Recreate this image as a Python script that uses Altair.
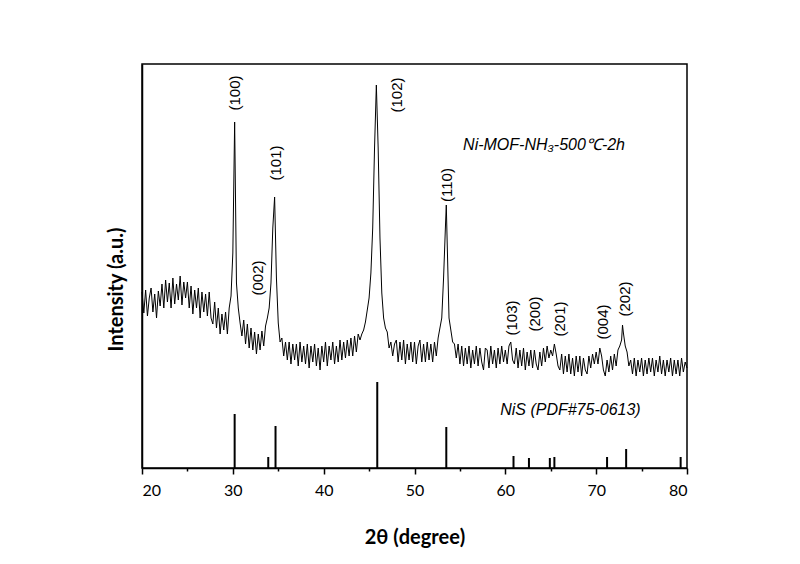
import altair as alt
import pandas as pd

# XRD scan of Ni-MOF-NH3-500C-2h, sampled every 0.2 degree from 20 to 80 (arbitrary counts)
scan_start = 20.0
scan_step = 0.2
scan_counts = [
    176, 155, 178, 152, 170,   # 20
    180, 156, 174, 150, 177,   # 21
    162, 184, 160, 188, 166,   # 22
    185, 160, 190, 164, 184,   # 23
    168, 192, 163, 186, 170,   # 24
    186, 160, 182, 154, 178,   # 25
    160, 180, 150, 176, 156,   # 26
    174, 152, 176, 150, 144,   # 27
    166, 140, 160, 134, 154,   # 28
    138, 156, 134, 160, 172,   # 29
    215, 346, 185, 160, 145,   # 30
    132, 148, 124, 144, 120,   # 31
    140, 118, 136, 114, 134,   # 32
    118, 137, 122, 142, 150,   # 33
    160, 185, 240, 271, 190,   # 34
    145, 126, 130, 112, 126,   # 35
    108, 126, 104, 124, 108,   # 36
    124, 102, 126, 106, 122,   # 37
    104, 124, 100, 122, 106,   # 38
    124, 102, 120, 98, 122,    # 39
    106, 126, 102, 122, 108,   # 40
    126, 104, 122, 106, 128,   # 41
    108, 126, 110, 128, 112,   # 42
    130, 112, 132, 116, 134,   # 43
    128, 134, 138, 146, 158,   # 44
    170, 195, 240, 320, 383,   # 45
    320, 230, 175, 150, 140,   # 46
    136, 120, 126, 112, 124,   # 47
    128, 106, 126, 108, 128,   # 48
    104, 124, 108, 126, 106,   # 49
    126, 104, 122, 128, 106,   # 50
    124, 106, 126, 108, 124,   # 51
    106, 126, 112, 130, 140,   # 52
    150, 190, 240, 225, 150,   # 53
    138, 126, 124, 110, 124,   # 54
    104, 122, 102, 120, 104,   # 55
    122, 100, 118, 104, 122,   # 56
    102, 120, 106, 98, 120,    # 57
    118, 100, 122, 104, 118,   # 58
    100, 120, 104, 122, 106,   # 59
    118, 104, 122, 126, 108,   # 60
    104, 120, 100, 118, 102,   # 61
    120, 98, 116, 102, 118,    # 62
    100, 118, 104, 98, 116,    # 63
    102, 120, 106, 122, 110,   # 64
    118, 112, 124, 114, 102,   # 65
    98, 114, 94, 112, 96,      # 66
    114, 94, 110, 92, 112,     # 67
    96, 112, 92, 110, 98,      # 68
    94, 112, 100, 114, 104,    # 69
    116, 104, 120, 112, 98,    # 70
    92, 108, 96, 112, 98,      # 71
    114, 102, 118, 122, 128,   # 72
    135, 122, 116, 102, 108,   # 73
    94, 110, 92, 108, 96,      # 74
    110, 92, 108, 94, 110,     # 75
    96, 110, 92, 108, 96,      # 76
    112, 94, 108, 92, 108,     # 77
    96, 110, 92, 108, 94,      # 78
    108, 92, 110, 96, 106,     # 79
    100,                       # 80
]
# peak apices that fall between the sampled points
apex_theta = [53.5, 72.9]
apex_counts = [263, 143]

# NiS reference pattern (PDF#75-0613)
ref_theta = [30.2, 33.9, 34.7, 45.9, 53.5, 60.9, 62.6, 64.9, 65.4, 71.2, 73.3, 79.3]
ref_height = [54, 11, 42, 86, 41, 12, 10, 10, 11, 11, 19, 11]

# Miller index labels
hkl_text = ["(100)", "(002)", "(101)", "(102)", "(110)", "(103)", "(200)", "(201)", "(004)", "(202)"]
hkl_theta = [30.24, 32.78, 34.76, 48.08, 53.59, 60.75, 63.28, 66.04, 70.77, 73.19]
hkl_pos = [375, 190, 305, 373, 283, 150, 154, 149, 146, 169]

sample_label = "Ni-MOF-NH\u2083-500\u2103-2h"
ref_label = "NiS (PDF#75-0613)"
note_theta = [55.35, 59.43]
note_pos = [323, 58]

x_ticks = [20, 25, 30, 35, 40, 45, 50, 55, 60, 65, 70, 75, 80]

scan_theta = [round(scan_start + i * scan_step, 2) for i in range(len(scan_counts))]
scan = pd.DataFrame({"theta": scan_theta + apex_theta, "counts": scan_counts + apex_counts})
scan = scan.sort_values("theta")
ref = pd.DataFrame({"theta": ref_theta, "h": ref_height, "z": [0] * len(ref_theta)})
hkl = pd.DataFrame({"theta": hkl_theta, "pos": hkl_pos, "t": hkl_text})
notes = pd.DataFrame({"theta": note_theta, "pos": note_pos, "t": [sample_label, ref_label]})

xscale = alt.Scale(domain=[20, 80], nice=False)
yscale = alt.Scale(domain=[0, 404], nice=False)

xaxis = alt.Axis(
    values=x_ticks,
    labelExpr="datum.value % 10 === 0 ? datum.label : ''",
    tickSize={"condition": {"test": "datum.value % 10 === 0", "value": 6}, "value": 3},
    title="2\u03b8 (degree)",
    titleY=69,
    titleBaseline="middle",
)
yaxis = alt.Axis(title="Intensity (a.u.)", ticks=False, labels=False, titlePadding=16, titleY=225)

line = alt.Chart(scan).mark_line(color="black", strokeWidth=1).encode(
    x=alt.X("theta:Q", scale=xscale, axis=xaxis),
    y=alt.Y("counts:Q", scale=yscale, axis=yaxis),
)
sticks = alt.Chart(ref).mark_rule(color="black", strokeWidth=2).encode(
    x="theta:Q", y="z:Q", y2="h:Q"
)
labels = alt.Chart(hkl).mark_text(
    angle=270, align="center", baseline="middle", font="Liberation Sans", fontSize=15, color="black"
).encode(x="theta:Q", y="pos:Q", text="t:N")
note_text = alt.Chart(notes).mark_text(
    align="left", baseline="middle", font="Liberation Sans", fontSize=16, fontStyle="italic", color="black"
).encode(x="theta:Q", y="pos:Q", text="t:N")

chart = alt.layer(line, sticks, labels, note_text).properties(
    width=545,
    height=404,
    autosize=alt.AutoSizeParams(type="none"),
    padding={"left": 134, "top": 56, "right": 100, "bottom": 80},
).configure_view(stroke="black", strokeWidth=1.5).configure_axis(
    grid=False,
    domainColor="black",
    domainWidth=1.5,
    tickColor="black",
    tickWidth=1.5,
    labelFont="Lato",
    labelFontSize=16,
    labelColor="black",
    labelPadding=8,
    titleFont="Lato",
    titleFontSize=20,
    titleFontWeight="bold",
    titleColor="black",
)

chart.save("out.html", embed_options={"renderer": "svg", "actions": False})
